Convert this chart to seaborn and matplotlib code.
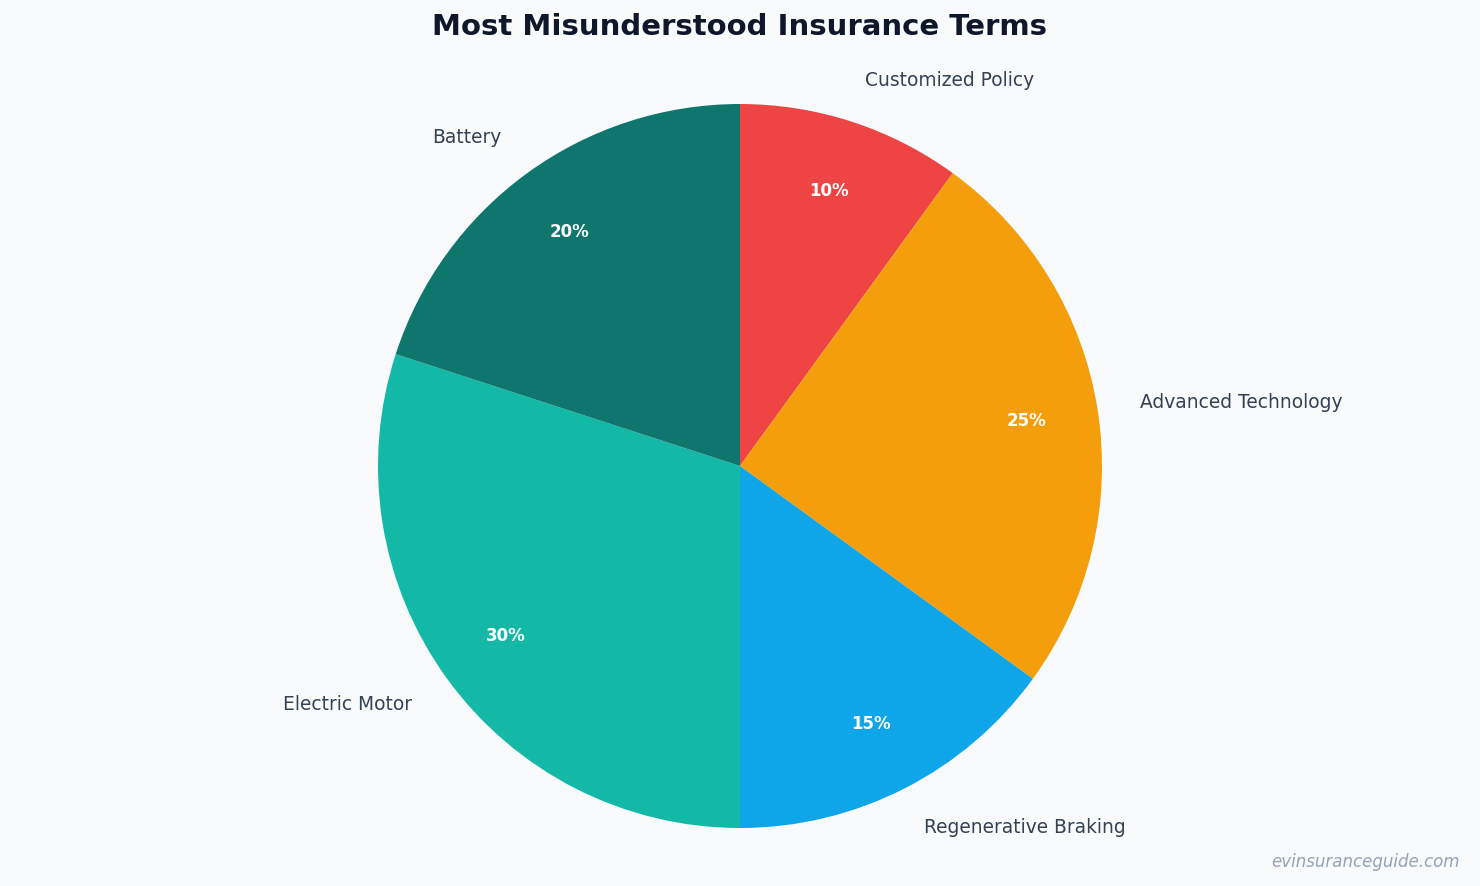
import matplotlib
matplotlib.use("Agg")
import matplotlib.pyplot as plt
import seaborn as sns

labels = ["Customized Policy", "Advanced Technology", "Regenerative Braking",
          "Electric Motor", "Battery"]
shares = [10, 25, 15, 30, 20]
colors = ["#EF4444", "#F59E0B", "#0EA5E9", "#14B8A6", "#0F766E"]

sns.set_theme(style="white")
plt.rcParams['font.family'] = ['DejaVu Sans']

bg = "#F8FAFC"
fig = plt.figure(figsize=(14.8, 8.86), dpi=100, facecolor=bg)

# pie centred at (740, 466) px with radius ~362 px
R = 362
lim = 1.25
W = 2 * R * lim
ax = fig.add_axes([(740 - W / 2) / 1480, (886 - 466 - W / 2) / 886, W / 1480, W / 886])
ax.set_facecolor(bg)

wedges, texts, autotexts = ax.pie(
    shares, labels=labels, colors=colors, startangle=90, counterclock=False,
    autopct="%1.0f%%", pctdistance=0.8, labeldistance=1.12,
    textprops=dict(color="#334155", fontsize=13.4),
    wedgeprops=dict(linewidth=0),
)
for t in autotexts:
    t.set_color("white")
    t.set_fontweight("bold")
    t.set_fontsize(12)

ax.set_xlim(-lim, lim)
ax.set_ylim(-lim, lim)
ax.set_aspect("equal")
ax.axis("off")

fig.text(0.5, 1 - 27 / 886, "Most Misunderstood Insurance Terms", ha="center", va="center",
         fontsize=21, fontweight="bold", color="#0F172A")
fig.text(1460 / 1480, 1 - 862 / 886, "evinsuranceguide.com", ha="right", va="center",
         fontsize=12, style="italic", color="#94A3B8")

fig.savefig("out.png", dpi=100, facecolor=bg)
